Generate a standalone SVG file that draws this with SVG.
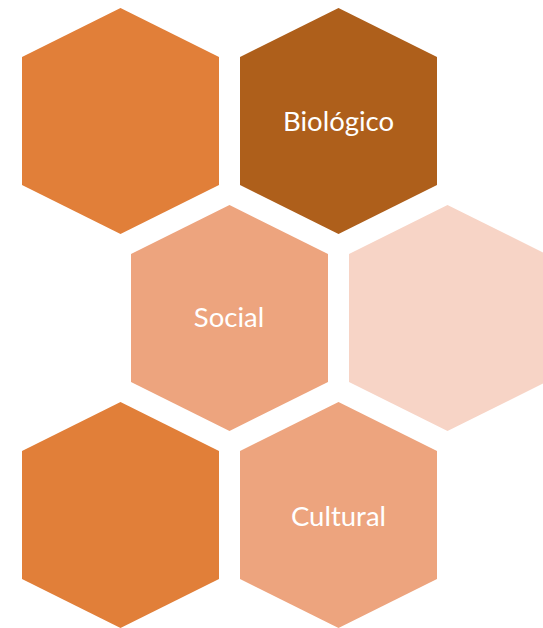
<svg xmlns="http://www.w3.org/2000/svg" width="543" height="628" viewBox="0 0 543 628">
<style>
.lbl{font-family:"Lato","Open Sans","Liberation Sans",sans-serif;font-size:27.5px;fill:#ffffff;text-anchor:middle}
</style>
<defs>
<polygon id="hex" points="0,-113 98.5,-64 98.5,64 0,113 -98.5,64 -98.5,-64"/>
</defs>
<rect width="543" height="628" fill="#ffffff"/>
<g id="hex1"><use href="#hex" x="120.5" y="121" fill="#E17F39"/></g>
<g id="biologico"><use href="#hex" x="338.5" y="121" fill="#AE5F1B"/><text class="lbl" x="338.5" y="131">Biológico</text></g>
<g id="social"><use href="#hex" x="229.5" y="318" fill="#EDA47E"/><text class="lbl" x="229" y="327">Social</text></g>
<g id="hex4"><use href="#hex" x="447.5" y="318" fill="#F7D4C6"/></g>
<g id="hex5"><use href="#hex" x="120.5" y="515" fill="#E17F39"/></g>
<g id="cultural"><use href="#hex" x="338.5" y="515" fill="#EDA47E"/><text class="lbl" x="338.5" y="526">Cultural</text></g>
<g id="connectors"/>
</svg>
